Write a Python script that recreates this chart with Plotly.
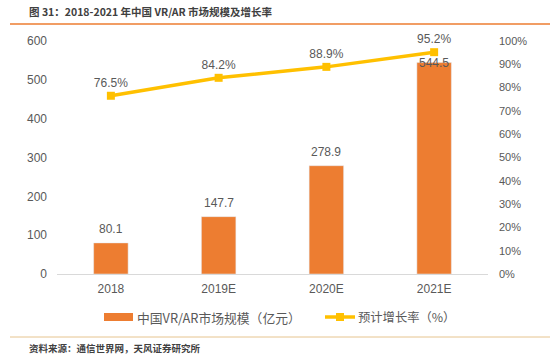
import plotly.graph_objects as go

categories = ["2018", "2019E", "2020E", "2021E"]
market_size = [80.1, 147.7, 278.9, 544.5]
growth_rate = [76.5, 84.2, 88.9, 95.2]
left_ticks = [0, 100, 200, 300, 400, 500, 600]
right_ticks = [0, 10, 20, 30, 40, 50, 60, 70, 80, 90, 100]
bar_label_shift = [14, 14, 14, 0]

FONT = "Liberation Sans, Noto Sans CJK SC, sans-serif"
CJK = "Noto Sans CJK SC, sans-serif"
GRAY = "#595959"
ORANGE = "#ED7D31"
GOLD = "#FFC000"

W, H = 550, 360
L, R, T, B = 57, 62, 41, 86
PW, PH = W - L - R, H - T - B


def px(x):
    return (x - L) / PW


def py(y):
    return (H - B - y) / PH


fig = go.Figure()
fig.add_trace(go.Bar(
    x=categories, y=market_size, name="中国VR/AR市场规模（亿元）",
    marker_color=ORANGE, width=0.32, showlegend=False,
))
fig.add_trace(go.Scatter(
    x=categories, y=growth_rate, name="预计增长率（%）", yaxis="y2",
    mode="lines+markers+text", line=dict(color=GOLD, width=3.5),
    marker=dict(symbol="square", size=8, color=GOLD),
    text=[f"{v:.1f}%" for v in growth_rate], textposition="top center",
    textfont=dict(size=12, color=GRAY, family=FONT), cliponaxis=False,
    showlegend=False,
))

for i, (v, s) in enumerate(zip(market_size, bar_label_shift)):
    fig.add_annotation(x=i, y=v, text=f"{v:.1f}", showarrow=False, yshift=s,
                       yanchor="middle", font=dict(size=12, color=GRAY, family=FONT))

fig.update_layout(
    width=W, height=H,
    margin=dict(l=L, r=R, t=T, b=B, autoexpand=False),
    paper_bgcolor="white", plot_bgcolor="white",
    font=dict(family=FONT, color=GRAY, size=12),
    xaxis=dict(type="category", range=[-0.5, len(categories) - 0.5],
               showgrid=False, showline=True, linecolor="#D9D9D9", linewidth=1,
               ticks="", tickfont=dict(size=12, color=GRAY), ticklabelstandoff=4),
    yaxis=dict(range=[0, 600], tickvals=left_ticks, showgrid=False, zeroline=False,
               showline=False, tickfont=dict(size=12, color=GRAY), ticklabelstandoff=9),
    yaxis2=dict(range=[0, 100], tickvals=right_ticks, ticktext=[f"{v}%" for v in right_ticks],
                overlaying="y", side="right", showgrid=False, zeroline=False, showline=False,
                tickfont=dict(size=11, color=GRAY), ticklabelstandoff=10),
    showlegend=False,
)

# title & source
fig.add_annotation(text="<b>图 31：2018-2021 年中国 VR/AR 市场规模及增长率</b>",
                   xref="paper", yref="paper", x=px(27), y=py(12), align="left",
                   xanchor="left", yanchor="middle", showarrow=False,
                   font=dict(family=CJK, size=10.5, color="#404040"))
fig.add_annotation(text="<b>资料来源：通信世界网，天风证券研究所</b>",
                   xref="paper", yref="paper", x=px(27), y=py(348), align="left",
                   xanchor="left", yanchor="middle", showarrow=False,
                   font=dict(family=CJK, size=9.5, color="#404040"))
fig.add_shape(type="line", xref="paper", yref="paper",
              x0=px(10), x1=px(550), y0=py(24), y1=py(24),
              line=dict(color=ORANGE, width=1.5))
fig.add_shape(type="line", xref="paper", yref="paper",
              x0=px(10), x1=px(550), y0=py(337), y1=py(337),
              line=dict(color="#E6C48F", width=1))

# custom legend
fig.add_shape(type="rect", xref="paper", yref="paper",
              x0=px(104), x1=px(133), y0=py(321), y1=py(313),
              line=dict(width=0), fillcolor=ORANGE)
fig.add_annotation(text="中国VR/AR市场规模（亿元）", xref="paper", yref="paper",
                   x=px(135), y=py(317), xanchor="left", yanchor="middle", showarrow=False,
                   align="left", font=dict(family=CJK, size=12.8, color=GRAY))
fig.add_shape(type="line", xref="paper", yref="paper",
              x0=px(325), x1=px(355), y0=py(317), y1=py(317),
              line=dict(color=GOLD, width=3.5))
fig.add_shape(type="rect", xref="paper", yref="paper",
              x0=px(336), x1=px(344), y0=py(321), y1=py(313),
              line=dict(width=0), fillcolor=GOLD)
fig.add_annotation(text="预计增长率（%）", xref="paper", yref="paper",
                   x=px(356), y=py(317), xanchor="left", yanchor="middle", showarrow=False,
                   align="left", font=dict(family=CJK, size=12.3, color=GRAY))

fig.write_html("out.html", config={"displayModeBar": False},
               post_script="document.body.style.margin='0';")
